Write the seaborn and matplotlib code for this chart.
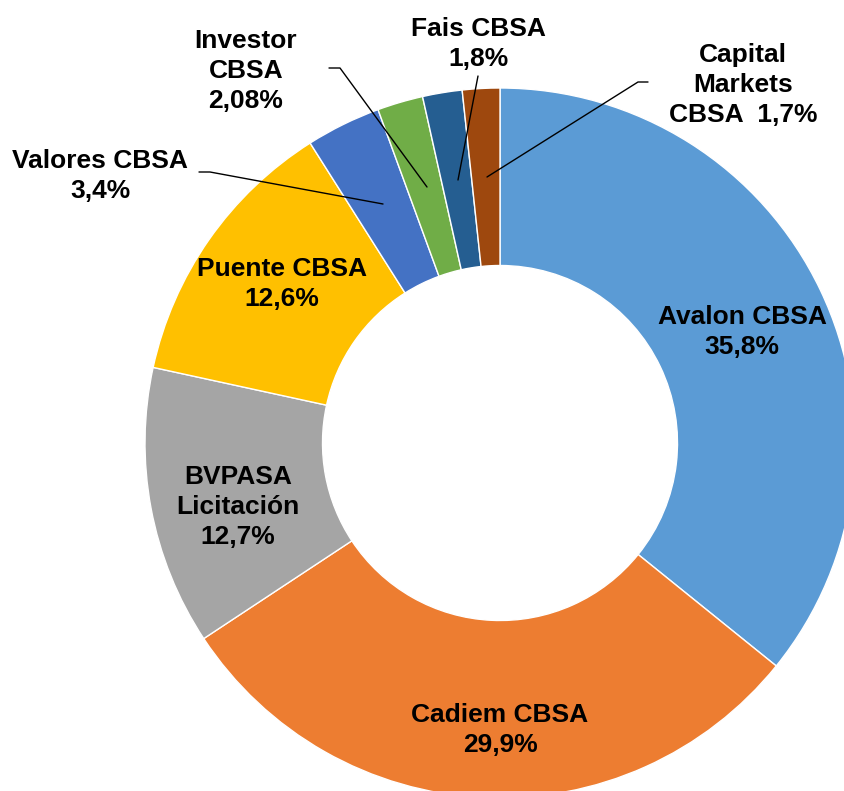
import matplotlib
matplotlib.use('Agg')
import matplotlib.pyplot as plt
import seaborn as sns

sns.set_style("white")
plt.rcParams['font.family'] = ['Liberation Sans', 'DejaVu Sans']

# Data (clockwise from 12 o'clock)
names = ['Avalon CBSA', 'Cadiem CBSA', 'BVPASA\nLicitación', 'Puente CBSA',
         'Valores CBSA', 'Investor\nCBSA', 'Fais CBSA', 'Capital\nMarkets\nCBSA ']
shares = [35.8, 29.9, 12.7, 12.6, 3.4, 2.08, 1.8, 1.7]
share_text = ['35,8%', '29,9%', '12,7%', '12,6%', '3,4%', '2,08%', '1,8%', '1,7%']
colors = ['#5B9BD5', '#ED7D31', '#A5A5A5', '#FFC000',
          '#4472C4', '#70AD47', '#255E91', '#9E480E']

W, H = 844, 791
fig = plt.figure(figsize=(W / 100, H / 100), dpi=100)
ax = fig.add_axes([0, 0, 1, 1])

# pixel coords, y measured from top
cx, cy, R = 500, 443, 355
ax.pie(shares, colors=colors, startangle=90, counterclock=False,
       center=(cx, H - cy), radius=R,
       wedgeprops=dict(width=R * 0.5, edgecolor='white', linewidth=1))
ax.set_xlim(0, W)
ax.set_ylim(0, H)
ax.set_axis_off()


def txt(x, y, s):
    ax.text(x, H - y, s, ha='center', va='center', fontsize=19,
            fontweight='bold', linespacing=1.3, color='black')


def leader(pts):
    xs = [p[0] for p in pts]
    ys = [H - p[1] for p in pts]
    ax.plot(xs, ys, color='black', lw=1)


# in-ring labels
txt(742, 332, names[0] + '\n' + share_text[0])
txt(500, 730, names[1] + '\n' + share_text[1])
txt(238, 507, names[2] + '\n' + share_text[2])
txt(282, 284, names[3] + '\n' + share_text[3])

# outside labels with leader lines
txt(100, 176, names[4] + '\n' + share_text[4])
leader([(199, 172), (210, 172), (383, 204)])

txt(246, 71, names[5] + '\n' + share_text[5])
leader([(329, 68), (340, 68), (427, 187)])

txt(478, 44, names[6] + '\n' + share_text[6])
leader([(478, 76), (458, 180)])

txt(743, 85, names[7] + ' ' + share_text[7])
leader([(648, 82), (638, 82), (487, 177)])

fig.savefig('out.png', dpi=100)
